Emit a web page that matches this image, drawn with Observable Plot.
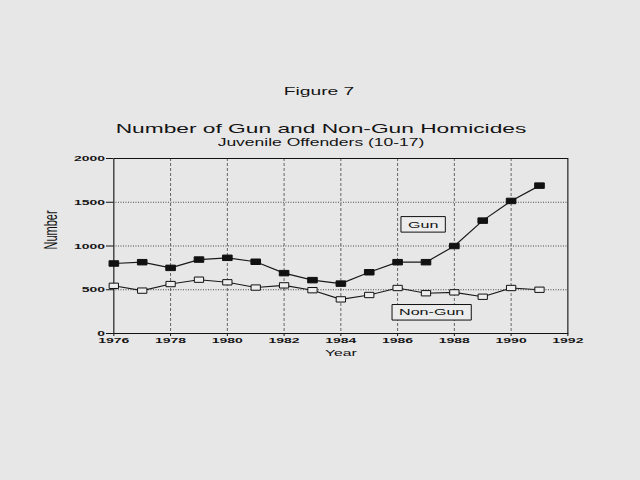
<!DOCTYPE html>
<html>
<head>
<meta charset="utf-8">
<script src="https://cdn.jsdelivr.net/npm/d3@7"></script>
<script src="https://cdn.jsdelivr.net/npm/@observablehq/plot@0.6"></script>
<style>
  html, body { margin: 0; padding: 0; background: #e7e7e7; }
  #wrap { position: relative; width: 640px; height: 480px; overflow: hidden; background: #e7e7e7;
          font-family: "Liberation Sans", Arial, sans-serif; color: #141414; }
  .t { position: absolute; line-height: 0.85; white-space: nowrap;
       transform: translateX(-50%) scaleX(1.7486); }
  #wrap svg { position: absolute; left: 0; top: 0; }
</style>
</head>
<body>
<div id="wrap">
  <div class="t" style="left:318.5px; top:87.4px; font-size:11px;">Figure 7</div>
  <div class="t" style="left:320.5px; top:123.4px; font-size:13px;">Number of Gun and Non-Gun Homicides</div>
  <div class="t" style="left:321px; top:138.6px; font-size:10px;">Juvenile Offenders (10-17)</div>
</div>
<script>
// ---- data ----
const years = [1976, 1977, 1978, 1979, 1980, 1981, 1982, 1983, 1984, 1985, 1986, 1987, 1988, 1989, 1990, 1991];
const gunValues = [800, 815, 750, 845, 865, 820, 690, 610, 570, 700, 815, 815, 1000, 1290, 1515, 1690];
const nonGunValues = [545, 490, 565, 615, 585, 525, 550, 495, 390, 440, 520, 460, 470, 420, 520, 500];
const yTicks = [0, 500, 1000, 1500, 2000];
const xTicks = [1976, 1978, 1980, 1982, 1984, 1986, 1988, 1990, 1992];
const gridYears = [1978, 1980, 1982, 1984, 1986, 1988, 1990];
const gridValues = [500, 1000, 1500];
const seriesLabels = ["Gun", "Non-Gun"];
const labelYears = [1986.9, 1987.2];
const labelValues = [1245, 240];
const xLabel = "Year";
const yLabel = "Number";

// The scanned figure is stretched horizontally; draw narrow and stretch.
const S = 640 / 366;

const gunRows = years.map((year, i) => ({year, value: gunValues[i]}));
const nonGunRows = years.map((year, i) => ({year, value: nonGunValues[i]}));

const plot = Plot.plot({
  width: 366,
  height: 480,
  marginLeft: 64.6,
  marginRight: 41.75,
  marginTop: 158,
  marginBottom: 147,
  style: {background: "transparent", fontFamily: "'Liberation Sans', Arial, sans-serif", fontSize: "8px", color: "#141414", overflow: "visible"},
  x: {domain: [1976, 1992]},
  y: {domain: [0, 2000]},
  marks: [
    Plot.ruleX(gridYears, {stroke: "#444", strokeWidth: 0.8, strokeDasharray: "3,2"}),
    Plot.ruleY(gridValues, {stroke: "#333", strokeWidth: 0.9, strokeDasharray: "1,1.5"}),
    Plot.frame({stroke: "#111", strokeWidth: 1.1}),
    Plot.axisY(yTicks, {tickSize: 4, tickPadding: 1, label: null, tickFormat: d => String(d), fontSize: 8, fontWeight: "bold"}),
    Plot.axisX(xTicks, {tickSize: 3, tickPadding: 1, label: null, tickFormat: d => String(d), fontSize: 8, fontWeight: "bold"}),
    Plot.line(gunRows, {x: "year", y: "value", stroke: "#1a1a1a", strokeWidth: 1.2}),
    Plot.line(nonGunRows, {x: "year", y: "value", stroke: "#1a1a1a", strokeWidth: 1.1}),
    Plot.dot(gunRows, {x: "year", y: "value", symbol: "square", r: 3.1, fill: "#111", stroke: "#111", strokeWidth: 1}),
    Plot.dot(nonGunRows, {x: "year", y: "value", symbol: "square", r: 3.0, fill: "#eeeeee", stroke: "#111", strokeWidth: 1}),
    Plot.text(seriesLabels, {x: (d, i) => labelYears[i], y: (d, i) => labelValues[i], text: d => d, fontSize: 9.2, fill: "#111"}),
    Plot.text([xLabel], {frameAnchor: "bottom", dy: 20, lineAnchor: "middle", text: d => d, fontSize: 9, fill: "#111"}),
    Plot.text([yLabel], {frameAnchor: "left", dx: -36, dy: 3.5, rotate: -90, text: d => d, fontSize: 11, fill: "#111"})
  ]
});

const wrap = document.getElementById("wrap");
wrap.appendChild(plot);
plot.setAttribute("width", 640);
plot.setAttribute("height", 480);
plot.setAttribute("preserveAspectRatio", "none");
plot.style.width = "640px";
plot.style.height = "480px";
plot.style.maxWidth = "none";

// boxes around the series labels
Array.from(plot.querySelectorAll("text"))
  .filter(t => seriesLabels.includes(t.textContent))
  .forEach(t => {
    const b = t.getBBox();
    const r = document.createElementNS("http://www.w3.org/2000/svg", "rect");
    r.setAttribute("x", b.x - 4);
    r.setAttribute("y", b.y - 2.5);
    r.setAttribute("width", b.width + 8);
    r.setAttribute("height", b.height + 5);
    r.setAttribute("fill", "#ececec");
    r.setAttribute("stroke", "#111");
    r.setAttribute("stroke-width", 1);
    if (t.getAttribute("transform")) r.setAttribute("transform", t.getAttribute("transform"));
    t.parentNode.insertBefore(r, t);
  });

// keep stroke widths even despite the horizontal stretch
plot.querySelectorAll("path, line, rect").forEach(e => e.setAttribute("vector-effect", "non-scaling-stroke"));
</script>
</body>
</html>
